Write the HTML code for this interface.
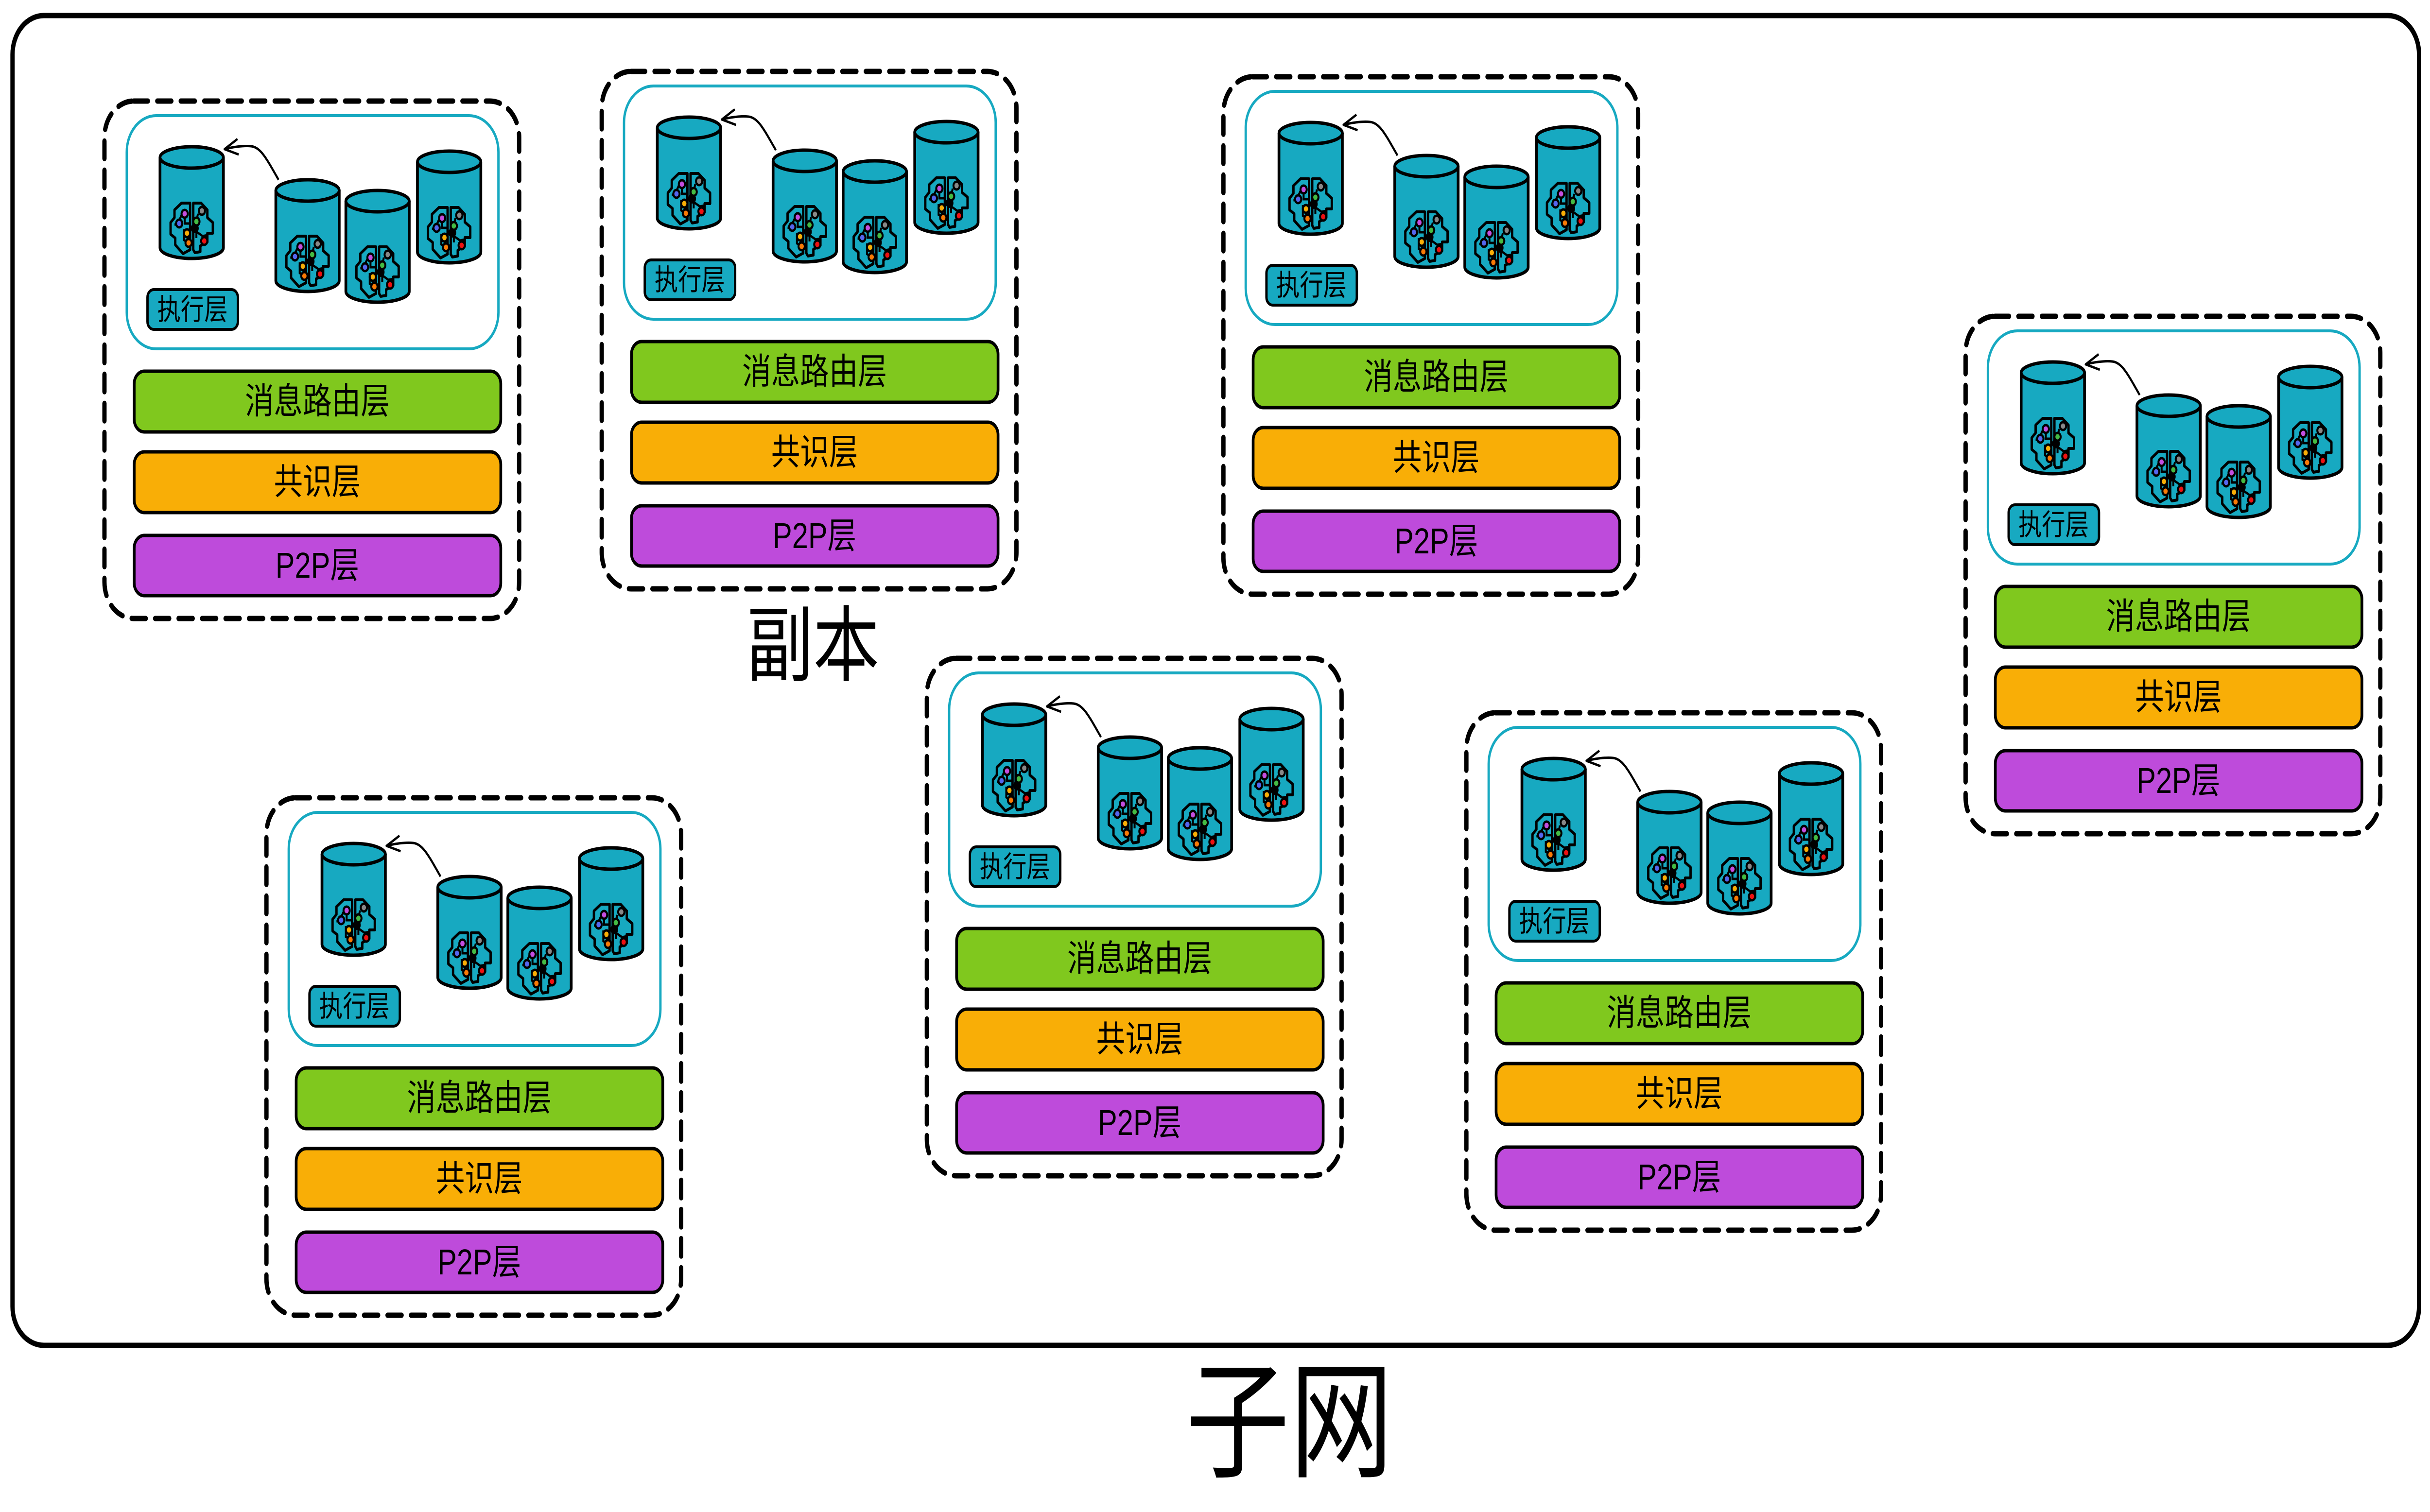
<!DOCTYPE html>
<html><head><meta charset="utf-8"><style>
html,body{margin:0;padding:0;background:#fff;width:100%;height:100%;overflow:hidden}
svg{display:block;width:100vw;height:100vh}
text{font-family:"Liberation Sans","Noto Sans CJK SC",sans-serif}
</style></head><body>
<svg viewBox="0 0 6211 3112" preserveAspectRatio="none" xmlns="http://www.w3.org/2000/svg">
<defs>
<g id="brain">
  <path d="M-4,-52 L-26,-52 L-44,-38 L-44,-22 L-54,-12 L-54,12 L-42,20 L-42,34 L-22,52 L-4,44 Z" fill="none" stroke="#000" stroke-width="6" stroke-linejoin="round"/>
  <path d="M4,-52 L24,-52 L40,-38 L40,-22 L54,-12 L54,10 L40,10 L40,28 L22,36 L22,48 L8,50 L4,44 Z" fill="none" stroke="#000" stroke-width="6" stroke-linejoin="round"/>
  <path d="M-22,-34 L-30,-20 L-30,-4 M-18,-38 L-18,-10 L-4,-10 M-20,2 L-20,24 L-8,30 M16,-30 L12,-14 L12,20 M30,-40 L24,-30 M14,8 L28,16 L40,14 M-36,-8 L-44,-8" fill="none" stroke="#000" stroke-width="5"/>
  <circle cx="8" cy="0" r="10" fill="#000"/>
  <circle cx="-18" cy="-30" r="8" fill="#c44ee0" stroke="#000" stroke-width="5"/>
  <circle cx="26" cy="-36" r="8" fill="#888" stroke="#000" stroke-width="5"/>
  <circle cx="-32" cy="-10" r="8" fill="#5566ee" stroke="#000" stroke-width="5"/>
  <circle cx="12" cy="-14" r="8" fill="#44bb44" stroke="#000" stroke-width="5"/>
  <circle cx="-12" cy="10" r="8" fill="#f9ae06" stroke="#000" stroke-width="5"/>
  <circle cx="-8" cy="30" r="8" fill="#f97a06" stroke="#000" stroke-width="5"/>
  <circle cx="32" cy="26" r="8" fill="#ee1111" stroke="#000" stroke-width="5"/>
</g>
<g id="cyl">
  <path d="M0,22 L0,208 A81,22 0 0 0 162,208 L162,22" fill="#17a9c1" stroke="#000" stroke-width="7"/>
  <ellipse cx="81" cy="22" rx="81" ry="22" fill="#17a9c1" stroke="#000" stroke-width="7"/>
  <use href="#brain" transform="translate(81,168)"/>
</g>
<g id="blk">
  <rect x="5" y="5" width="1060" height="1065" rx="75" fill="none" stroke="#000" stroke-width="11" stroke-dasharray="36 24" stroke-linecap="round"/>
  <rect x="62" y="35" width="950" height="480" rx="75" fill="#fff" stroke="#17a9c1" stroke-width="6"/>
  <use href="#cyl" transform="translate(147,99)"/>
  <use href="#cyl" transform="translate(443,167)"/>
  <use href="#cyl" transform="translate(622,189)"/>
  <use href="#cyl" transform="translate(805,108)"/>
  <path d="M450,167 C420,125 405,100 380,98 C360,96 330,100 312,104" fill="none" stroke="#000" stroke-width="5"/>
  <path d="M345,83 L312,104 L348,115" fill="none" stroke="#000" stroke-width="5" stroke-linejoin="round"/>
  <rect x="115" y="393" width="231" height="82" rx="16" fill="#17a9c1" stroke="#000" stroke-width="6"/>
  <text x="230" y="455" font-size="60" text-anchor="middle">执行层</text>
  <rect x="81" y="561" width="937" height="125" rx="26" fill="#80c81e" stroke="#000" stroke-width="7"/>
  <text x="549" y="648" font-size="74" text-anchor="middle">消息路由层</text>
  <rect x="81" y="727" width="937" height="125" rx="26" fill="#f9ae06" stroke="#000" stroke-width="7"/>
  <text x="549" y="814" font-size="74" text-anchor="middle">共识层</text>
  <rect x="81" y="899" width="937" height="124" rx="26" fill="#be4bdb" stroke="#000" stroke-width="7"/>
  <text x="549" y="986" font-size="74" text-anchor="middle">P2P层</text>
</g>
</defs>
<rect x="32" y="32" width="6151" height="2737" rx="80" fill="#fff" stroke="#000" stroke-width="11"/>
<use href="#blk" transform="translate(262,203)"/>
<use href="#blk" transform="translate(1533,142)"/>
<use href="#blk" transform="translate(3122,153)"/>
<use href="#blk" transform="translate(5019,646)"/>
<use href="#blk" transform="translate(676,1637)"/>
<use href="#blk" transform="translate(2364,1350)"/>
<use href="#blk" transform="translate(3743,1462)"/>
<text x="2078" y="1388" font-size="170" text-anchor="middle">副本</text>
<text x="3296" y="3020" font-size="265" text-anchor="middle">子网</text>
</svg>
</body></html>
